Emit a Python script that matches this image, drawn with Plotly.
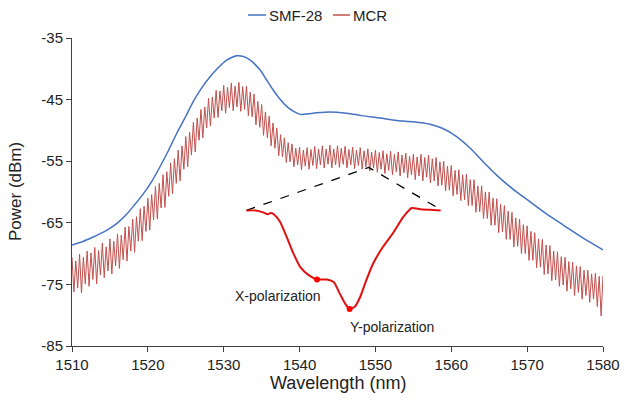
import numpy as np
import plotly.graph_objects as go

# SMF-28 transmission (smooth)
smf_wl = [1510, 1511.5, 1512.8, 1514, 1515, 1516, 1517.2, 1518.3, 1519.4, 1520.5,
          1521.6, 1522.7, 1523.8, 1525, 1526, 1527.1, 1528.2, 1529.3, 1530.4, 1531.7,
          1532.6, 1533.5, 1534.8, 1535.6, 1536.5, 1537.4, 1538.3, 1539.2, 1540.1, 1541.8,
          1544, 1546.2, 1548.2, 1550.6, 1552.8, 1555, 1557.2, 1558.9, 1560.7, 1562.5,
          1564.2, 1566, 1568, 1570.4, 1572.6, 1574.8, 1577.4, 1580]
smf_db = [-68.6, -68.0, -67.3, -66.6, -65.9, -65.0, -63.6, -62.0, -60.3, -58.3,
          -55.9, -53.3, -50.5, -47.7, -45.3, -43.1, -41.3, -39.8, -38.6, -37.9,
          -38.0, -38.6, -40.2, -41.7, -43.4, -44.9, -46.1, -46.9, -47.4, -47.2,
          -47.0, -47.2, -47.6, -48.0, -48.4, -48.6, -49.0, -49.7, -51.0, -52.9,
          -55.1, -57.3, -59.4, -61.6, -63.6, -65.4, -67.5, -69.4]

# MCR spectrum: fringe maxima (every 0.5 nm from 1510) and minima (between them)
mcr_start = 1510.0
mcr_step = 0.25
mcr_peaks = [
    -70.6, -71.2, -70.1, -70.6, -69.6, -69.9, -69.0, -69.5, -68.3, -68.9,
    -67.6, -68.0, -66.8, -67.0, -65.7, -65.6, -64.4, -64.0, -62.7, -62.3,
    -61.0, -60.4, -59.1, -58.6, -57.2, -56.7, -55.3, -54.6, -53.2, -52.5,
    -51.0, -50.3, -48.7, -48.0, -46.6, -46.2, -44.8, -44.6, -43.5, -43.6,
    -42.7, -43.0, -42.3, -42.8, -42.2, -42.9, -42.8, -43.8, -44.1, -45.3,
    -45.8, -47.0, -47.7, -48.8, -49.6, -50.7, -51.2, -52.0, -52.2, -52.9,
    -52.7, -53.2, -52.8, -53.1, -52.6, -53.0, -52.5, -53.0, -52.4, -53.0,
    -52.5, -52.9, -52.6, -53.1, -52.7, -53.2, -52.8, -53.3, -53.0, -53.5,
    -53.2, -53.6, -53.3, -53.8, -53.4, -53.9, -53.5, -54.0, -53.7, -54.2,
    -53.9, -54.3, -53.9, -54.4, -54.0, -54.6, -54.4, -55.1, -55.0, -55.8,
    -55.7, -56.5, -56.4, -57.2, -57.1, -58.0, -58.0, -59.0, -59.0, -60.0,
    -60.0, -61.0, -61.1, -62.0, -62.2, -63.1, -63.3, -64.2, -64.4, -65.3,
    -65.5, -66.4, -66.6, -67.6, -67.7, -68.6, -68.7, -69.6, -69.7, -70.5,
    -70.6, -71.3, -71.4, -72.0, -72.1, -72.7, -72.7, -73.3, -73.2, -73.7,
    -73.6]
mcr_dips = [
    -76.2, -75.6, -76.4, -74.9, -75.3, -74.2, -74.9, -73.5, -73.9, -72.8,
    -73.3, -72.0, -72.4, -71.0, -71.2, -69.6, -69.8, -68.0, -67.9, -66.4,
    -66.2, -64.5, -64.4, -62.6, -62.5, -60.7, -60.3, -58.6, -58.2, -56.3,
    -55.9, -54.0, -53.5, -51.6, -51.2, -49.6, -49.3, -48.0, -47.9, -46.8,
    -47.2, -46.3, -46.8, -46.2, -46.9, -46.6, -47.6, -47.8, -49.1, -49.5,
    -50.8, -51.2, -52.5, -52.9, -54.1, -54.3, -55.2, -55.1, -55.9, -55.6,
    -56.4, -55.8, -56.3, -55.7, -56.2, -55.6, -56.1, -55.5, -56.1, -55.6,
    -56.0, -55.5, -56.1, -55.6, -56.2, -55.7, -56.3, -55.9, -56.6, -56.1,
    -56.8, -56.3, -57.0, -56.5, -57.2, -56.7, -57.4, -56.9, -57.7, -57.2,
    -58.0, -57.4, -58.2, -57.6, -58.5, -58.2, -59.0, -58.9, -59.8, -59.7,
    -60.6, -60.4, -61.4, -61.3, -62.2, -62.2, -63.3, -63.2, -64.3, -64.3,
    -65.4, -65.4, -66.6, -66.5, -67.7, -67.7, -68.9, -68.8, -70.0, -70.0,
    -71.1, -71.1, -72.3, -72.2, -73.4, -73.3, -74.4, -74.3, -75.3, -75.1,
    -76.1, -75.7, -76.8, -76.3, -77.4, -76.8, -77.9, -77.4, -78.6, -80.1]

mcr_db = []
for p, d in zip(mcr_peaks, mcr_dips):
    mcr_db += [p, d]
mcr_db.append(mcr_peaks[-1])
mcr_wl = mcr_start + mcr_step * np.arange(len(mcr_db))

# inset: zoomed single fringe (drawn in main-axis units)
inset_wl = [1533.0, 1534.2, 1535.2, 1535.8, 1536.2, 1536.6, 1537.4, 1538.3, 1539.2, 1540.1,
            1541.2, 1542.3, 1543.6, 1544.5, 1545.3, 1546.0, 1546.6, 1547.3, 1548.0, 1548.8,
            1549.7, 1551.0, 1552.3, 1553.7, 1554.8, 1555.9, 1557.2, 1558.6]
inset_db = [-63.0, -63.0, -63.3, -63.6, -63.4, -63.6, -64.8, -67.3, -70.0, -72.2,
            -73.5, -74.2, -74.2, -74.6, -76.5, -78.1, -79.0, -78.6, -77.0, -74.3,
            -71.6, -68.9, -66.7, -64.0, -62.6, -62.8, -62.9, -63.0]
pol_wl = [1542.3, 1546.6]
pol_db = [-74.2, -79.0]
zoom_wl = [1533.0, 1549.1, 1558.8]
zoom_db = [-63.0, -56.0, -63.0]

x_ticks = [1510, 1520, 1530, 1540, 1550, 1560, 1570, 1580]
y_ticks = [-85, -75, -65, -55, -45, -35]

BLUE = '#4472C4'
RED = '#C0504D'

fig = go.Figure()
fig.add_trace(go.Scatter(x=smf_wl, y=smf_db, name='SMF-28', mode='lines',
                         line=dict(color=BLUE, width=1.5, shape='spline', smoothing=0.8)))
fig.add_trace(go.Scatter(x=mcr_wl, y=mcr_db, name='MCR', mode='lines',
                         line=dict(color=RED, width=1)))
fig.add_trace(go.Scatter(x=zoom_wl, y=zoom_db, mode='lines',
                         line=dict(color='black', width=1.3, dash='dash')))
fig.add_trace(go.Scatter(x=inset_wl, y=inset_db, mode='lines',
                         line=dict(color='#E01010', width=2, shape='spline', smoothing=0.6)))
fig.add_trace(go.Scatter(x=pol_wl, y=pol_db, mode='markers',
                         marker=dict(color='#FF0000', size=6)))

font = 'Liberation Sans, Arial, sans-serif'
fig.add_annotation(x=1537.2, y=-76.9, text='X-polarization', showarrow=False,
                   font=dict(size=14, color='#222'))
fig.add_annotation(x=1552.2, y=-81.9, text='Y-polarization', showarrow=False,
                   font=dict(size=14, color='#222'))

# paper coords helpers: plot area is 531 x 308 px, origin at (72, 346)
def px(v):
    return (v - 72) / 531


def py(v):
    return (346 - v) / 308


# axis titles
fig.add_annotation(x=0.5, xref='paper', y=py(383), yref='paper', yanchor='middle',
                   text='Wavelength (nm)', showarrow=False, font=dict(size=18, color='#222'))
fig.add_annotation(x=px(15), xref='paper', xanchor='center', y=0.5, yref='paper',
                   yanchor='middle', text='Power (dBm)', textangle=-90, showarrow=False,
                   font=dict(size=17, color='#222'))

# legend drawn by hand so the short line samples match
legend_items = [('SMF-28', BLUE, 248, 266), ('MCR', RED, 333, 350)]
for label, colour, x0, x1 in legend_items:
    fig.add_shape(type='line', xref='paper', yref='paper', x0=px(x0), x1=px(x1),
                  y0=py(15), y1=py(15), line=dict(color=colour, width=1.5))
    fig.add_annotation(x=px(x1 + 1), xref='paper', xanchor='left', y=py(15), yref='paper',
                       yanchor='middle', text=label, showarrow=False,
                       font=dict(size=15, color='#222'))

axis_common = dict(showgrid=False, zeroline=False, showline=True, linecolor='#404040',
                   linewidth=1, ticks='outside', ticklen=5, tickcolor='#404040',
                   tickfont=dict(size=15, color='#222'), automargin=False)
fig.update_xaxes(range=[1510, 1580], tickvals=x_ticks,
                 ticktext=[str(v) for v in x_ticks], **axis_common)
fig.update_yaxes(range=[-85, -35], tickvals=y_ticks,
                 ticktext=[str(v) for v in y_ticks], **axis_common)

fig.update_layout(
    width=637, height=403,
    margin=dict(l=72, r=34, t=38, b=57),
    plot_bgcolor='white', paper_bgcolor='white',
    font=dict(family=font, color='#222'),
    showlegend=False,
)

fig.write_html('out.html', config={'displayModeBar': False},
               post_script="document.body.style.margin='0';")
